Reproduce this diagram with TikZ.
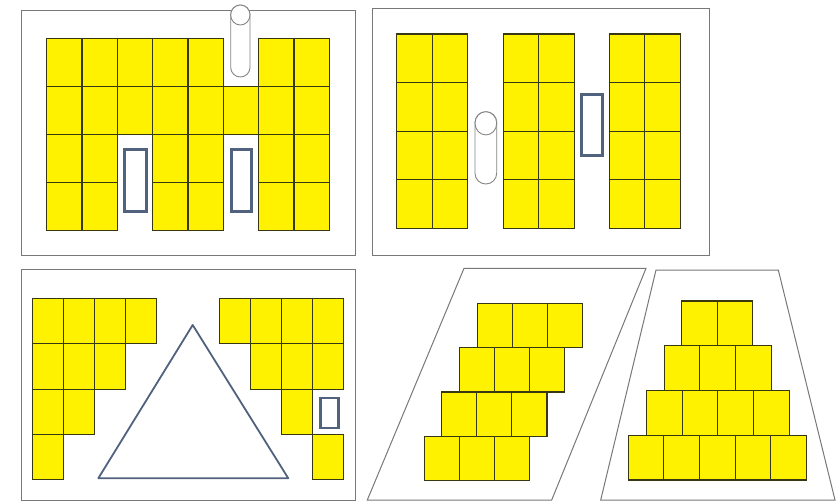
\documentclass[tikz,border=0pt]{standalone}
\usepackage{tikz}
\usetikzlibrary{positioning}
\definecolor{celledge}{RGB}{55,55,20}
\definecolor{paneledge}{RGB}{120,120,120}
\definecolor{winedge}{RGB}{80,98,125}

\begin{document}
\begin{tikzpicture}[
    x=1pt, y=-1pt,
    cell/.style={draw=celledge, fill=yellow, line width=1.1pt},
    panel/.style={draw=paneledge, fill=white, line width=1pt},
    window/.style={draw=winedge, fill=white, line width=3pt},
    pillar/.style={draw=paneledge!90, fill=white, line width=0.9pt}
  ]
  \useasboundingbox (0,0) rectangle (838,501);

  % Panel 1: 8 x 4 block, pillar on top, two windows
  \draw[panel] (21,10) rectangle (355,255);
  \foreach \c in {0,1,2,3,4,6,7}
    \draw[cell] ({46.7+35.33*\c},38.3) rectangle ++(35.33,48.1);
  \foreach \c in {0,...,7}
    \draw[cell] ({46.7+35.33*\c},86.4) rectangle ++(35.33,48.1);
  \foreach \r in {2,3}
    \foreach \c in {0,1,3,4,6,7}
      \draw[cell] ({46.7+35.33*\c},{38.3+48.1*\r}) rectangle ++(35.33,48.1);
  \draw[pillar, rounded corners=9.6pt] (230.7,5) rectangle (250,77);
  \draw[pillar] (240.35,15) ellipse (9.65 and 10);
  \draw[window] (124.8,149.2) rectangle (146.2,211.8);
  \draw[window] (231.5,149.2) rectangle (251.8,211.2);

  % Panel 2: three 2 x 4 blocks
  \draw[panel] (372.7,8.3) rectangle (709.3,255);
  \foreach \g in {396.7,503.3,609.3}
    \foreach \r in {0,...,3}
      \foreach \c in {0,1}
        \draw[cell] ({\g+35.6*\c},{34+48.6*\r}) rectangle ++(35.6,48.6);
  \draw[pillar, rounded corners=10.8pt] (475,111.7) rectangle (496.7,184);
  \draw[pillar] (485.85,123.3) ellipse (10.85 and 11.6);
  \draw[window] (581.5,94.8) rectangle (602.8,155.8);

  % Panel 3: two stepped blocks around a triangle
  \draw[panel] (21,269.3) rectangle (355,500);
  \foreach \r/\n in {0/3,1/2,2/1,3/0}
    \foreach \c in {0,...,\n}
      \draw[cell] ({32.3+31.1*\c},{298.3+45.4*\r}) rectangle ++(31.1,45.4);
  \foreach \r/\c in {0/0,0/1,0/2,0/3,1/1,1/2,1/3,2/2,3/3}
    \draw[cell] ({219.3+31*\c},{298.3+45.4*\r}) rectangle ++(31,45.4);
  \draw[window, line width=2.6pt] (320.3,398) rectangle (338.7,428);
  \draw[draw=winedge, line width=1.8pt, line join=round]
    (192.7,325) -- (288.3,478.3) -- (98.3,478.3) -- cycle;

  % Panel 4: slanted block in a parallelogram
  \draw[panel] (464,268.3) -- (646,268.3) -- (551.7,500) -- (367.3,500) -- cycle;
  \foreach \r/\s in {0/477.3,1/459.3,2/441.7,3/424.3}
    \foreach \c in {0,1,2}
      \draw[cell] ({\s+35.1*\c},{303.3+44.35*\r}) rectangle ++(35.1,44.35);

  % Panel 5: stepped pyramid in a trapezoid
  \draw[panel] (656,270) -- (778.3,270) -- (835,500) -- (600.7,500) -- cycle;
  \foreach \r/\s/\n in {0/681.7/1,1/664.3/2,2/646.7/3,3/628.3/4}
    \foreach \c in {0,...,\n}
      \draw[cell] ({\s+35.6*\c},{301+44.75*\r}) rectangle ++(35.6,44.75);
\end{tikzpicture}
\end{document}
